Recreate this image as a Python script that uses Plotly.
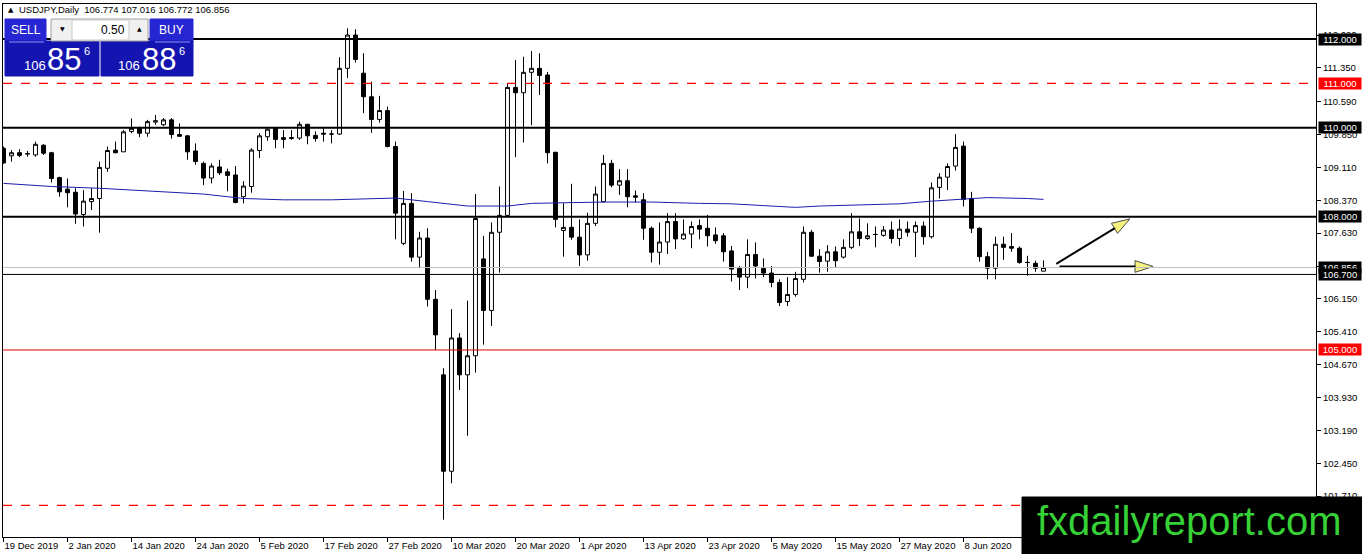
import plotly.graph_objects as go

# USDJPY daily candles, 19 Dec 2019 .. 22 Jun 2020
tick_labels = ["19 Dec 2019", "2 Jan 2020", "14 Jan 2020", "24 Jan 2020", "5 Feb 2020",
               "17 Feb 2020", "27 Feb 2020", "10 Mar 2020", "20 Mar 2020", "1 Apr 2020",
               "13 Apr 2020", "23 Apr 2020", "5 May 2020", "15 May 2020", "27 May 2020",
               "8 Jun 2020"]

opens = [109.54, 109.37, 109.44, 109.41, 109.39, 109.61, 109.44, 108.88, 108.62, 108.55,
         108.05, 108.34, 108.41, 109.09, 109.50, 109.46, 109.92, 109.99, 109.88, 110.13,
         110.07, 110.18, 109.85, 109.82, 109.48, 109.20, 108.87, 109.12, 109.01, 108.94,
         108.45, 108.68, 109.49, 109.80, 109.99, 109.78, 109.76, 109.77, 110.08, 109.83,
         109.88, 109.86, 109.86, 111.34, 112.09, 111.23, 110.70, 110.19, 110.39, 109.58,
         107.40, 108.30, 107.09, 107.52, 106.14, 104.44, 102.27, 105.27, 104.44, 104.87,
         107.05, 105.89, 107.65, 108.03, 110.91, 110.79, 111.25, 111.34, 111.19, 109.45,
         107.69, 107.76, 107.54, 107.14, 107.85, 108.34, 109.20, 108.71, 108.81, 108.47,
         108.38, 107.74, 107.20, 107.43, 107.89, 107.50, 107.61, 107.80, 107.74, 107.59,
         107.57, 107.23, 106.84, 106.64, 107.15, 106.84, 106.73, 106.52, 106.09, 106.25,
         106.59, 107.65, 107.11, 107.00, 107.21, 107.09, 107.31, 107.66, 107.51, 107.60,
         107.58, 107.70, 107.51, 107.72, 107.65, 107.79, 107.55, 108.66, 108.89, 109.14,
         109.59, 108.41, 107.74, 107.10, 106.84, 107.38, 107.33, 107.29, 106.97, 106.95,
         106.774]
highs = [109.58, 109.50, 109.52, 109.48, 109.69, 109.63, 109.46, 108.90, 108.86, 108.64,
         108.60, 108.64, 109.24, 109.58, 109.69, 109.95, 110.21, 110.03, 110.18, 110.29,
         110.22, 110.22, 110.10, 109.84, 109.65, 109.24, 109.20, 109.28, 109.08, 109.14,
         108.80, 109.54, 109.88, 109.99, 110.01, 109.95, 109.95, 110.14, 110.09, 109.92,
         110.00, 109.95, 111.59, 112.24, 112.22, 111.68, 111.04, 110.72, 110.48, 109.69,
         108.58, 108.53, 107.66, 107.74, 106.35, 104.59, 105.92, 105.38, 106.11, 108.51,
         107.57, 107.87, 108.68, 111.00, 111.53, 111.60, 111.73, 111.68, 111.26, 109.46,
         108.30, 108.74, 107.94, 108.09, 108.68, 109.39, 109.28, 109.07, 109.07, 108.59,
         108.53, 107.78, 107.87, 108.08, 108.08, 107.94, 107.89, 107.94, 108.04, 107.76,
         107.63, 107.34, 106.89, 107.49, 107.42, 107.06, 106.89, 106.59, 106.64, 106.76,
         107.78, 107.70, 107.27, 107.36, 107.33, 107.49, 108.08, 107.96, 107.85, 107.78,
         107.79, 107.89, 107.94, 107.89, 107.89, 107.89, 108.77, 108.98, 109.20, 109.86,
         109.69, 108.56, 107.76, 107.21, 107.55, 107.55, 107.63, 107.33, 107.12, 107.01,
         107.016]
lows = [109.19, 109.24, 109.34, 109.35, 109.35, 109.39, 108.77, 108.45, 108.21, 107.84,
        107.78, 108.15, 107.64, 109.01, 109.43, 109.46, 109.88, 109.79, 109.80, 110.07,
        110.04, 109.76, 109.80, 109.28, 109.17, 108.71, 108.75, 108.94, 108.57, 108.30,
        108.30, 108.54, 109.32, 109.71, 109.54, 109.54, 109.73, 109.73, 109.63, 109.69,
        109.69, 109.65, 109.84, 111.12, 111.47, 110.33, 109.89, 110.12, 109.56, 107.49,
        107.36, 106.99, 106.84, 105.98, 105.00, 101.18, 102.00, 104.10, 103.07, 104.49,
        105.12, 105.54, 106.74, 108.00, 109.34, 109.67, 110.06, 110.74, 109.20, 107.76,
        107.10, 107.48, 106.89, 107.01, 107.79, 108.32, 108.66, 108.49, 108.21, 108.32,
        107.48, 106.97, 106.92, 107.16, 107.27, 107.48, 107.29, 107.49, 107.33, 107.39,
        106.99, 106.54, 106.35, 106.39, 106.61, 106.64, 106.41, 105.99, 105.99, 106.20,
        106.52, 107.10, 106.74, 106.76, 106.86, 107.06, 107.27, 107.34, 107.48, 107.31,
        107.55, 107.40, 107.34, 107.55, 107.09, 107.37, 107.51, 108.41, 108.60, 109.04,
        108.23, 107.63, 106.99, 106.59, 106.59, 107.03, 107.21, 106.94, 106.67, 106.76,
        106.772]
closes = [109.21, 109.44, 109.38, 109.42, 109.63, 109.43, 108.86, 108.56, 108.54, 108.06,
          108.35, 108.41, 109.11, 109.49, 109.44, 109.91, 109.99, 109.88, 110.14, 110.16,
          110.18, 109.85, 109.81, 109.46, 109.24, 108.87, 109.14, 108.99, 108.93, 108.32,
          108.69, 109.50, 109.82, 109.97, 109.74, 109.74, 109.78, 110.08, 109.82, 109.76,
          109.86, 109.86, 111.34, 112.09, 111.54, 110.70, 110.19, 110.39, 109.58, 108.08,
          108.30, 107.09, 107.52, 106.14, 105.34, 102.27, 105.27, 104.44, 104.87, 107.96,
          105.89, 107.65, 108.03, 110.91, 110.79, 111.25, 111.34, 111.18, 109.44, 107.94,
          107.76, 107.54, 107.14, 107.85, 108.51, 109.20, 108.71, 108.81, 108.45, 108.44,
          107.74, 107.20, 107.43, 107.89, 107.50, 107.61, 107.78, 107.72, 107.57, 107.46,
          107.21, 106.82, 106.64, 107.15, 106.89, 106.73, 106.52, 106.07, 106.25, 106.61,
          107.65, 107.11, 106.99, 107.21, 107.01, 107.31, 107.66, 107.51, 107.57, 107.60,
          107.70, 107.51, 107.72, 107.65, 107.80, 107.55, 108.65, 108.89, 109.13, 109.56,
          108.39, 107.74, 107.10, 106.84, 107.38, 107.31, 107.29, 106.97, 106.97, 106.84,
          106.856]

# moving average, sampled along its path (bar index, price)
ma_bars = [0, 6, 12, 21, 25, 30, 35, 41, 46, 49, 53, 58, 63, 66, 75, 81, 87, 91, 95, 99,
           102, 109, 112, 116, 121, 123, 128, 130]
ma_values = [108.75, 108.68, 108.64, 108.55, 108.51, 108.41, 108.38, 108.38, 108.40, 108.42,
             108.34, 108.24, 108.24, 108.30, 108.33, 108.33, 108.30, 108.29, 108.25, 108.21,
             108.24, 108.27, 108.29, 108.35, 108.41, 108.43, 108.41, 108.39]

y_ticks = [101.71, 102.45, 103.19, 103.93, 104.67, 105.41, 106.15, 106.89, 107.63, 108.37,
           109.11, 109.85, 110.59, 111.35, 112.09]

black_levels = [112.0, 110.0, 108.0]
thin_level = 106.7
red_level = 105.0
dashed_levels = [111.0, 101.5]
bid = 106.856

# drawn arrows (bar index, price) -> tip
arrow_up_x, arrow_up_y = [131.6, 140.8], [106.94, 107.95]
arrow_flat_x, arrow_flat_y = [132.0, 143.7], [106.88, 106.88]

FONT = "Liberation Sans, Arial, sans-serif"
LEFT, RIGHT, TOP, BOTTOM = 3, 1316, 4, 537


def px(x):
    return (x - LEFT) / (RIGHT - LEFT)


def py(y):
    return (BOTTOM - y) / (BOTTOM - TOP)


bars = list(range(len(opens)))

fig = go.Figure()
fig.add_trace(go.Candlestick(
    x=bars, open=opens, high=highs, low=lows, close=closes,
    increasing=dict(line=dict(color="black", width=1), fillcolor="white"),
    decreasing=dict(line=dict(color="black", width=1), fillcolor="black"),
    whiskerwidth=0, hoverinfo="skip", showlegend=False,
))
fig.add_trace(go.Scatter(x=ma_bars, y=ma_values, mode="lines",
                         line=dict(color="#1c1caa", width=1),
                         hoverinfo="skip", showlegend=False))
for ax_, ay_ in [(arrow_up_x, arrow_up_y), (arrow_flat_x, arrow_flat_y)]:
    fig.add_trace(go.Scatter(
        x=ax_, y=ay_, mode="lines+markers",
        line=dict(color="black", width=2),
        marker=dict(symbol="arrow", angleref="previous", size=[0, 19],
                    color="#f2ec4a", line=dict(color="black", width=1)),
        hoverinfo="skip", showlegend=False))

shapes = []
for lv in black_levels:
    shapes.append(dict(type="line", xref="paper", x0=0, x1=1, yref="y", y0=lv, y1=lv,
                       line=dict(color="black", width=2)))
shapes.append(dict(type="line", xref="paper", x0=0, x1=1, yref="y", y0=bid, y1=bid,
                   line=dict(color="#c0c0c0", width=1)))
shapes.append(dict(type="line", xref="paper", x0=0, x1=1, yref="y", y0=thin_level,
                   y1=thin_level, line=dict(color="black", width=1)))
shapes.append(dict(type="line", xref="paper", x0=0, x1=1, yref="y", y0=red_level,
                   y1=red_level, line=dict(color="#e00000", width=1)))
for lv in dashed_levels:
    shapes.append(dict(type="line", xref="paper", x0=0, x1=1, yref="y", y0=lv, y1=lv,
                       line=dict(color="#ff0000", width=1.2, dash="dash")))


def rect(x0, y0, x1, y1, fill, border=None):
    shapes.append(dict(type="rect", xref="paper", yref="paper",
                       x0=px(x0), x1=px(x1), y0=py(y1), y1=py(y0), fillcolor=fill,
                       line=dict(color=border or fill, width=1), layer="above"))


# one-click trading panel
rect(5, 19, 46, 42, "#2626d2")
rect(5, 41, 99, 76, "#1414b0")
rect(150, 19, 193, 42, "#2626d2")
rect(101, 41, 193, 76, "#1414b0")
rect(51, 19, 148, 41, "#f0f0f0", "#a0a0a0")
rect(72, 20, 129, 40, "white", "#c8c8c8")
shapes.append(dict(type="line", xref="paper", yref="paper", x0=px(9), x1=px(44),
                   y0=py(42), y1=py(42), line=dict(color="#9090ff", width=1), layer="above"))
shapes.append(dict(type="line", xref="paper", yref="paper", x0=px(155), x1=px(190),
                   y0=py(42), y1=py(42), line=dict(color="#9090ff", width=1), layer="above"))
# watermark box
rect(1022, 497, 1362, 554, "black")

annotations = []


def text(x, y, s, size, color="white", anchor="left", family=FONT):
    annotations.append(dict(xref="paper", yref="paper", x=px(x), y=py(y), text=s,
                            showarrow=False, xanchor=anchor, yanchor="middle",
                            font=dict(family=family, size=size, color=color)))


text(6, 10, "▲", 7, "black", family="DejaVu Sans")
text(17, 10, "USDJPY,Daily  106.774 107.016 106.772 106.856", 9.5, "black")
text(26, 30, "SELL", 12, anchor="center")
text(171, 30, "BUY", 12, anchor="center")
text(127, 30, "0.50", 12, "black", anchor="right")
text(62, 29, "▼", 6, "black", anchor="center", family="DejaVu Sans")
text(139, 29, "▲", 6, "black", anchor="center", family="DejaVu Sans")
text(22, 66, "106", 13)
text(45, 60, "85", 31)
text(82, 51, "6", 11)
text(116, 66, "106", 13)
text(140, 60, "88", 31)
text(177, 51, "6", 11)
text(1189, 521, "fxdailyreport.com", 40, "#36d136", anchor="center")

# price labels on the right axis
for lv, bg in [(112.0, "black"), (111.0, "#ff0000"), (110.0, "black"), (108.0, "black"),
               (bid, "black"), (thin_level, "black"), (red_level, "#ff0000")]:
    annotations.append(dict(xref="paper", x=px(1318), xanchor="left", yref="y", y=lv,
                            yanchor="middle", text=f"{lv:.3f}", showarrow=False,
                            width=42, height=11, bgcolor=bg, borderpad=0,
                            font=dict(family=FONT, size=9.5, color="white")))

fig.update_layout(
    width=1362, height=554,
    margin=dict(l=LEFT, r=1362 - RIGHT, t=TOP, b=554 - BOTTOM),
    paper_bgcolor="white", plot_bgcolor="white",
    shapes=shapes, annotations=annotations,
    font=dict(family=FONT, size=9.5, color="black"),
    xaxis=dict(range=[-0.0625, (RIGHT - 3.5) / 8], tickvals=list(range(0, 121, 8)),
               ticktext=tick_labels, ticks="outside", ticklen=4, tickcolor="black",
               ticklabelposition="outside right", showgrid=False, zeroline=False,
               showline=True, linecolor="black", linewidth=1, mirror=True,
               rangeslider=dict(visible=False), fixedrange=True),
    yaxis=dict(side="right", range=[100.79, 112.788], tickvals=y_ticks,
               ticktext=[f"{v:.3f}" for v in y_ticks], ticks="outside", ticklen=4,
               tickcolor="black", showgrid=False, zeroline=False, showline=True,
               linecolor="black", linewidth=1, mirror=True, fixedrange=True),
)

# the page is shot at exactly the figure size, so drop the browser's default body margin
fig.write_html("out.html", config={"displayModeBar": False},
               post_script="document.body.style.margin = '0';")
